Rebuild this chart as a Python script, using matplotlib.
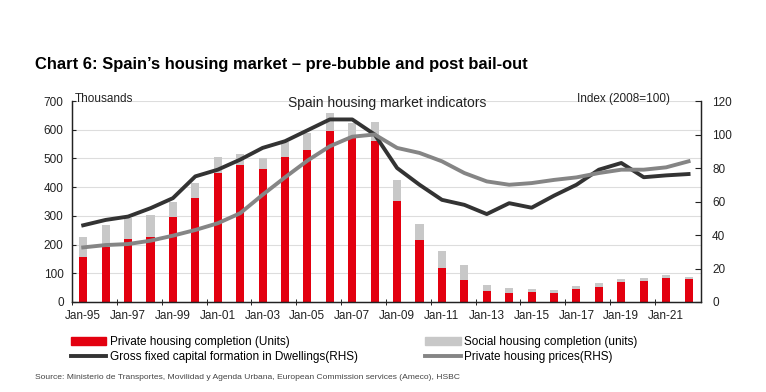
import matplotlib.pyplot as plt
from matplotlib.patches import Patch
from matplotlib.lines import Line2D

plt.rcParams['font.family'] = ['Liberation Sans', 'DejaVu Sans']

years = list(range(1995, 2023))
# thousands of units
private = [155, 190, 220, 225, 297, 363, 449, 476, 463, 506, 529, 597, 576, 562,
           353, 216, 120, 78, 39, 31, 36, 30, 45, 53, 69, 74, 84, 79]
social = [70, 77, 73, 77, 51, 53, 57, 39, 37, 53, 60, 60, 47, 66,
          72, 56, 58, 52, 20, 18, 9, 11, 11, 12, 10, 11, 9, 9]
# index 2008=100 (RHS)
gfcf = [45.8, 49, 51, 56, 62, 75, 79, 85, 92, 96, 102.5, 109, 109, 100,
        80, 70, 61, 58, 52.5, 59, 56.3, 63.5, 70, 79, 83, 74.5, 75.6, 76.4]
prices = [32.6, 34, 34.6, 36.6, 39.6, 43, 47, 53, 64, 74.4, 84.4, 93, 98.7, 100,
          92, 89, 84, 77, 72, 70, 71, 72.9, 74.4, 77, 79, 79, 80.4, 84]
tick_years = years[::2]
tick_labels = ["Jan-" + str(y)[2:] for y in tick_years]

red = "#e3000f"
lgray = "#c8c8c8"
dark = "#333333"
mgray = "#858585"

fig = plt.figure(figsize=(7.66, 3.92), dpi=100)
ax = fig.add_axes([0.094, 0.2296, 0.821, 0.5127])
ax2 = ax.twinx()

ax.bar(years, private, width=0.36, color=red, zorder=2)
ax.bar(years, social, width=0.36, bottom=private, color=lgray, zorder=2)
ax.set_ylim(0, 700)
ax.set_xlim(1994.5, 2022.55)
ax.set_yticks(range(0, 701, 100))
ax.yaxis.grid(True, color="#dddddd", linewidth=0.8, zorder=0)
ax.set_axisbelow(True)

ax2.plot(years, gfcf, color=dark, linewidth=2.8, zorder=3)
ax2.plot(years, prices, color=mgray, linewidth=2.8, zorder=3)
ax2.set_ylim(0, 120)
ax2.set_yticks(range(0, 121, 20))

ax.set_xticks(tick_years)
ax.set_xticklabels(tick_labels)
ax.set_xticks([y - 0.5 for y in tick_years], minor=True)
ax.tick_params(axis="x", which="major", length=0, pad=6, labelsize=8.5)
ax.tick_params(axis="x", which="minor", length=5, direction="inout")
ax.tick_params(axis="y", labelsize=8.5, length=3, direction="in", pad=6)
ax2.tick_params(axis="y", labelsize=8.5, length=4, direction="in", pad=8)

for a in (ax, ax2):
    a.spines["top"].set_visible(False)
    for s in ("left", "right", "bottom"):
        a.spines[s].set_color("#222222")
        a.spines[s].set_linewidth(0.9)
    a.tick_params(colors="#222222")

fig.text(0.046, 0.835, "Chart 6: Spain\u2019s housing market \u2013 pre-bubble and post bail-out",
         fontsize=11.9, fontweight="bold", va="center")
fig.text(0.098, 0.748, "Thousands", fontsize=8.5, va="center", color="#222222")
fig.text(0.505, 0.738, "Spain housing market indicators", fontsize=10, ha="center",
         va="center", color="#222222")
fig.text(0.875, 0.748, "Index (2008=100)", fontsize=8.5, ha="right", va="center",
         color="#222222")

handles = [Patch(color=red), Line2D([], [], color=dark, linewidth=2.8),
           Patch(color=lgray), Line2D([], [], color=mgray, linewidth=2.8)]
labels = ["Private housing completion (Units)", "Gross fixed capital formation in Dwellings(RHS)",
          "Social housing completion (units)", "Private housing prices(RHS)"]
fig.legend(handles, labels, ncol=2, loc="upper left", bbox_to_anchor=(0.085, 0.158),
           frameon=False, fontsize=8.5, handlelength=3.0, handleheight=0.7,
           handletextpad=0.3, columnspacing=5.7, labelspacing=0.25, borderpad=0)

fig.text(0.046, 0.038, "Source: Ministerio de Transportes, Movilidad y Agenda Urbana, "
         "European Commission services (Ameco), HSBC", fontsize=6.1, color="#444444",
         va="center")

fig.savefig("out.png", dpi=100)
